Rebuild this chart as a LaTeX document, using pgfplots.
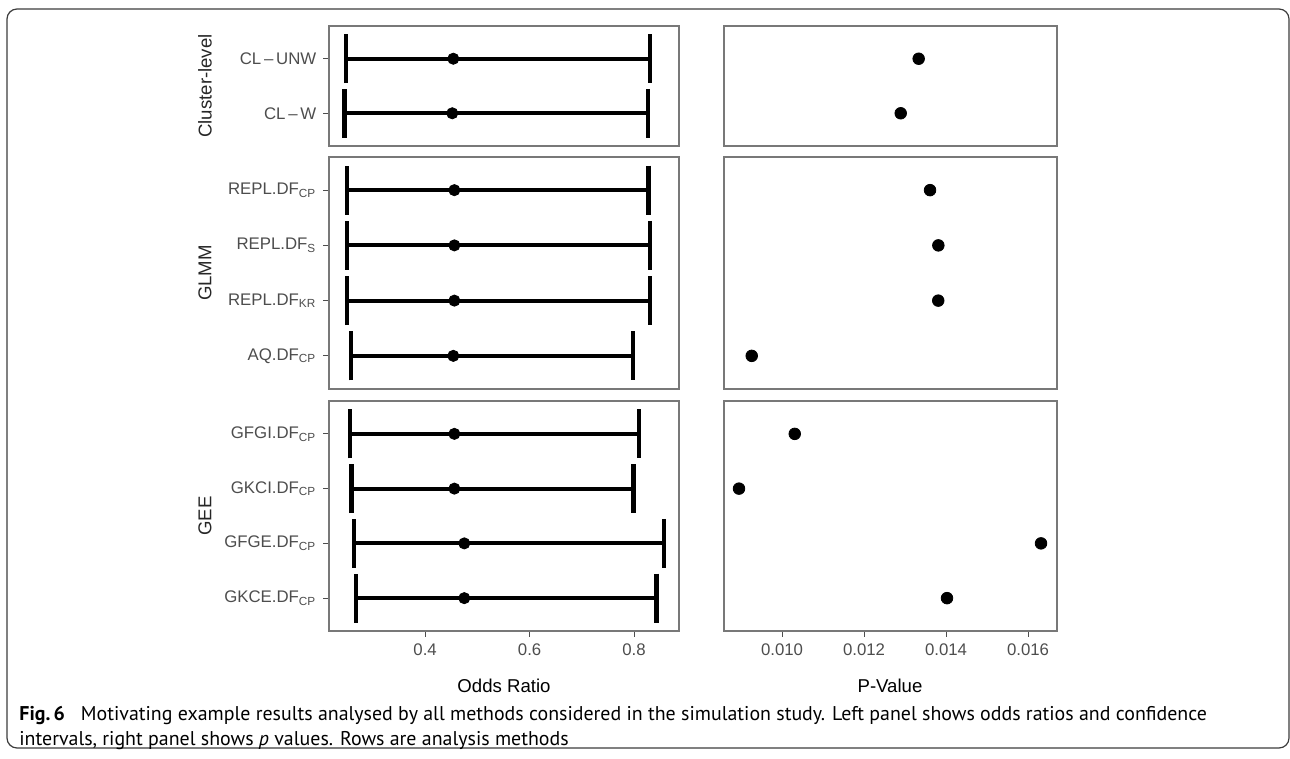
\documentclass[border=0pt]{standalone}
\usepackage{fontspec}
\setmainfont{Liberation Sans}
\newfontfamily\capfont{PT Sans}
\usepackage{pgfplots}
\usepackage{pgfplotstable}
\pgfplotsset{compat=1.18}

\definecolor{panelgray}{RGB}{120,120,120}
\definecolor{ticktext}{RGB}{77,77,77}
\definecolor{boxgray}{RGB}{60,60,60}

% odds ratio: row, estimate, minus (est-lower), plus (upper-est)
\pgfplotstableread{
row or    em    ep
1   0.454 0.206 0.376
2   0.452 0.206 0.375
}\orcl
\pgfplotstableread{
row or    em    ep
1   0.456 0.206 0.372
2   0.456 0.206 0.374
3   0.456 0.206 0.374
4   0.454 0.196 0.344
}\orglmm
\pgfplotstableread{
row or    em    ep
1   0.456 0.200 0.354
2   0.456 0.197 0.343
3   0.475 0.211 0.382
4   0.475 0.207 0.368
}\orgee
% p values
\pgfplotstableread{
row p
1   0.013333
2   0.012895
}\pcl
\pgfplotstableread{
row p
1   0.013610
2   0.013813
3   0.013810
4   0.009261
}\pglmm
\pgfplotstableread{
row p
1   0.010310
2   0.008951
3   0.016317
4   0.014024
}\pgee

\pgfplotsset{
  panel/.style={
    scale only axis,
    y dir=reverse,
    axis line style={draw=panelgray, line width=0.6pt},
    tick style={draw=ticktext, line width=0.5pt},
    tick align=outside, major tick length=2.8pt,
    xtick pos=bottom, ytick pos=left,
    ticklabel style={font=\fontsize{8.4}{9}\selectfont, text=ticktext},
    scaled x ticks=false,
    clip=false,
  },
  orpanel/.style={panel, width=175pt, xmin=0.216, xmax=0.886,
    xtick={0.4,0.6,0.8}, xticklabels={0.4,0.6,0.8}},
  pvpanel/.style={panel, width=166.5pt, xmin=0.008585, xmax=0.016707,
    xtick={0.010,0.012,0.014,0.016}, xticklabels={0.010,0.012,0.014,0.016},
    ytick=\empty},
  notx/.style={xtick=\empty},
  ci/.style={only marks, mark=*, mark size=2.8pt, black,
    error bars/.cd, x dir=both, x explicit,
    error bar style={line width=2pt, black},
    error mark options={line width=2.2pt, mark size=12.25pt, black, rotate=90}},
  pt/.style={only marks, mark=*, mark size=2.9pt, black},
}

\begin{document}
\begin{tikzpicture}
\useasboundingbox (0,0) rectangle (645pt,-379.5pt);
\draw[boxgray, line width=0.6pt, rounded corners=5pt] (3.5pt,-4.5pt) rectangle (644.5pt,-374pt);

% ---- Cluster-level
\begin{axis}[orpanel, notx, at={(164.5pt,-13pt)}, anchor=north west, height=60pt,
  ymin=0.4, ymax=2.6, ytick={1,2},
  yticklabels={CL\,–\,UNW, CL\,–\,W}]
\addplot[ci] table[x=or, y=row, x error minus=em, x error plus=ep] {\orcl};
\end{axis}
\begin{axis}[pvpanel, notx, at={(362pt,-13pt)}, anchor=north west, height=60pt,
  ymin=0.4, ymax=2.6]
\addplot[pt] table[x=p, y=row] {\pcl};
\end{axis}

% ---- GLMM
\begin{axis}[orpanel, notx, at={(164.5pt,-78.5pt)}, anchor=north west, height=116pt,
  ymin=0.4, ymax=4.6, ytick={1,2,3,4},
  yticklabels={REPL.DF\textsubscript{CP}, REPL.DF\textsubscript{S},
               REPL.DF\textsubscript{KR}, AQ.DF\textsubscript{CP}}]
\addplot[ci] table[x=or, y=row, x error minus=em, x error plus=ep] {\orglmm};
\end{axis}
\begin{axis}[pvpanel, notx, at={(362pt,-78.5pt)}, anchor=north west, height=116pt,
  ymin=0.4, ymax=4.6]
\addplot[pt] table[x=p, y=row] {\pglmm};
\end{axis}

% ---- GEE
\begin{axis}[orpanel, at={(164.5pt,-200.5pt)}, anchor=north west, height=115pt,
  ymin=0.4, ymax=4.6, ytick={1,2,3,4},
  yticklabels={GFGI.DF\textsubscript{CP}, GKCI.DF\textsubscript{CP},
               GFGE.DF\textsubscript{CP}, GKCE.DF\textsubscript{CP}}]
\addplot[ci] table[x=or, y=row, x error minus=em, x error plus=ep] {\orgee};
\end{axis}
\begin{axis}[pvpanel, at={(362pt,-200.5pt)}, anchor=north west, height=115pt,
  ymin=0.4, ymax=4.6]
\addplot[pt] table[x=p, y=row] {\pgee};
\end{axis}

% strip labels
\begin{scope}[every node/.style={rotate=90, font=\fontsize{9.3}{10}\selectfont, text=black!85}]
\node at (102.5pt,-43pt) {Cluster-level};
\node at (102.5pt,-136.5pt) {GLMM};
\node at (102.5pt,-258pt) {GEE};
\end{scope}

% axis titles
\node[font=\fontsize{9.3}{10}\selectfont] at (252pt,-343pt) {Odds Ratio};
\node[font=\fontsize{9.3}{10}\selectfont] at (445pt,-343pt) {P-Value};

% caption
\node[anchor=base west, inner sep=0pt, font=\capfont\fontsize{9.95}{12}\selectfont] at (9.5pt,-360pt)
  {\textbf{Fig.\,6}\hspace{0.8em}Motivating example results analysed by all methods considered in the simulation study. Left panel shows odds ratios and confidence};
\node[anchor=base west, inner sep=0pt, font=\capfont\fontsize{9.95}{12}\selectfont] at (9.5pt,-372.5pt)
  {intervals, right panel shows \textit{p} values. Rows are analysis methods};
\end{tikzpicture}
\end{document}
